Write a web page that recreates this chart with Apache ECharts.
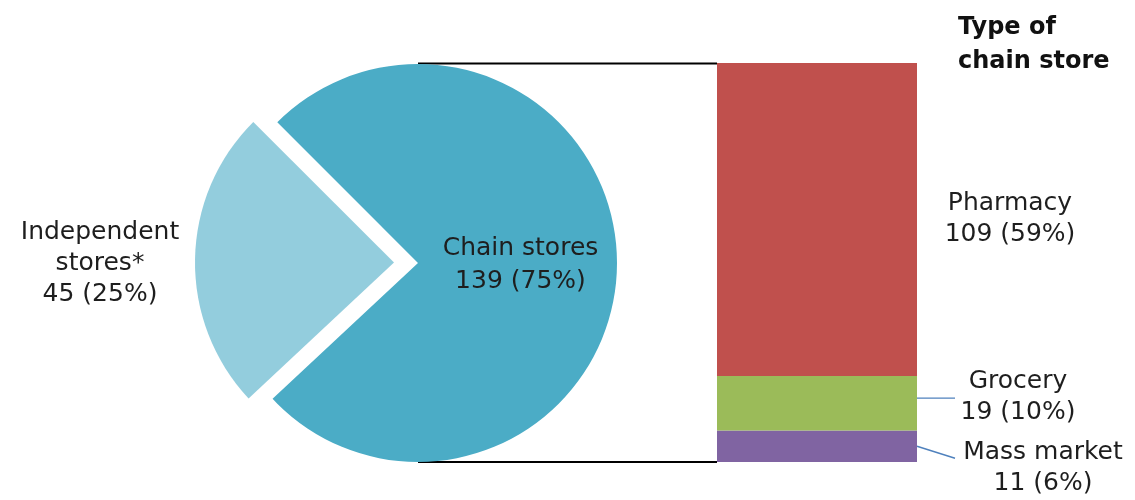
<!DOCTYPE html>
<html>
<head>
<meta charset="utf-8">
<script src="https://cdn.jsdelivr.net/npm/echarts@6/dist/echarts.min.js"></script>
<style>html,body{margin:0;padding:0;background:#fff}#c{width:1135px;height:500px}</style>
</head>
<body>
<div id="c"></div>
<script>
// ---- data ----
const pieNames = ['Chain stores', 'Independent\nstores*'];
const pieValues = [139, 45];
const piePct = ['75%', '25%'];
const barNames = ['Mass market', 'Grocery', 'Pharmacy'];
const barValues = [11, 19, 109];
const barPct = ['6%', '10%', '59%'];
const barColors = ['#8064A2', '#9BBB59', '#C0504D'];
const pieColors = ['#4BACC6', '#93CDDD'];
const titleText = 'Type of\nchain store';

// ---- layout constants ----
const FONT = 'DejaVu Sans';
const cx = 418, cy = 263, R = 199;
const gridLeft = 717, gridTop = 63, gridW = 200, gridH = 399;

const chart = echarts.init(document.getElementById('c'));

const labelDist = [126, 101, 93];
const labelDy = [22, -6, 0];
const total = barValues.reduce((a, b) => a + b, 0);

const barSeries = barNames.map((n, i) => ({
  type: 'bar',
  name: n,
  stack: 's',
  barWidth: '100%',
  data: [barValues[i]],
  itemStyle: { color: barColors[i] },
  emphasis: { disabled: true },
  silent: true,
  label: {
    show: true,
    position: 'right',
    distance: labelDist[i],
    align: 'center',
    color: '#1e1e1e',
    fontFamily: FONT,
    fontSize: 25,
    lineHeight: 31,
    formatter: () => n + '\n' + barValues[i] + ' (' + barPct[i] + ')'
  },
  labelLayout: { dy: labelDy[i] }
}));

// leader lines for the two small segments, anchored at segment middles
const segMid = (i) => {
  let cum = 0; for (let k = 0; k < i; k++) cum += barValues[k];
  return gridTop + gridH * (1 - (cum + barValues[i] / 2) / total);
};
const leaderDy = [[0, 12], [-5, -5]];
const leaders = [0, 1].map(i => ({
  type: 'line', silent: true,
  shape: { x1: gridLeft + gridW, y1: segMid(i) + leaderDy[i][0], x2: gridLeft + gridW + 38, y2: segMid(i) + leaderDy[i][1] },
  style: { stroke: '#4F81BD', lineWidth: 1.4 }
}));

const pieText = (i) => pieNames[i] + '\n' + pieValues[i] + ' (' + piePct[i] + ')';

chart.setOption({
  animation: false,
  backgroundColor: '#ffffff',
  title: {
    text: titleText,
    left: 953, top: 6,
    textStyle: { fontFamily: FONT, fontWeight: 'bold', fontSize: 24, lineHeight: 34, color: '#111' }
  },
  grid: { left: gridLeft, top: gridTop, width: gridW, height: gridH },
  xAxis: { type: 'category', data: ['Chain stores'], show: false },
  yAxis: { type: 'value', min: 0, max: total, show: false },
  series: [
    {
      type: 'pie',
      center: [cx, cy],
      radius: R,
      startAngle: 135,
      clockwise: true,
      selectedMode: 'single',
      selectedOffset: 24,
      emphasis: { disabled: true },
      silent: true,
      data: pieNames.map((n, i) => ({
        name: n,
        value: pieValues[i],
        selected: i === 1,
        itemStyle: { color: pieColors[i] },
        label: { show: i === 0 },
        labelLine: { show: false }
      })),
      label: {
        position: 'inside',
        color: '#1e1e1e',
        fontFamily: FONT,
        fontSize: 25,
        lineHeight: 33,
        formatter: p => pieText(p.dataIndex)
      }
    },
    ...barSeries
  ],
  graphic: [
    { type: 'line', silent: true, shape: { x1: cx, y1: gridTop + 0.5, x2: gridLeft, y2: gridTop + 0.5 }, style: { stroke: '#000', lineWidth: 2 } },
    { type: 'line', silent: true, shape: { x1: cx, y1: gridTop + gridH, x2: gridLeft, y2: gridTop + gridH }, style: { stroke: '#000', lineWidth: 2 } },
    ...leaders,
    {
      type: 'text', silent: true, x: 100, y: cy,
      style: {
        text: pieText(1), align: 'center', verticalAlign: 'middle',
        fontFamily: FONT, fontSize: 25, lineHeight: 31, fill: '#1e1e1e'
      }
    }
  ]
});
</script>
</body>
</html>
